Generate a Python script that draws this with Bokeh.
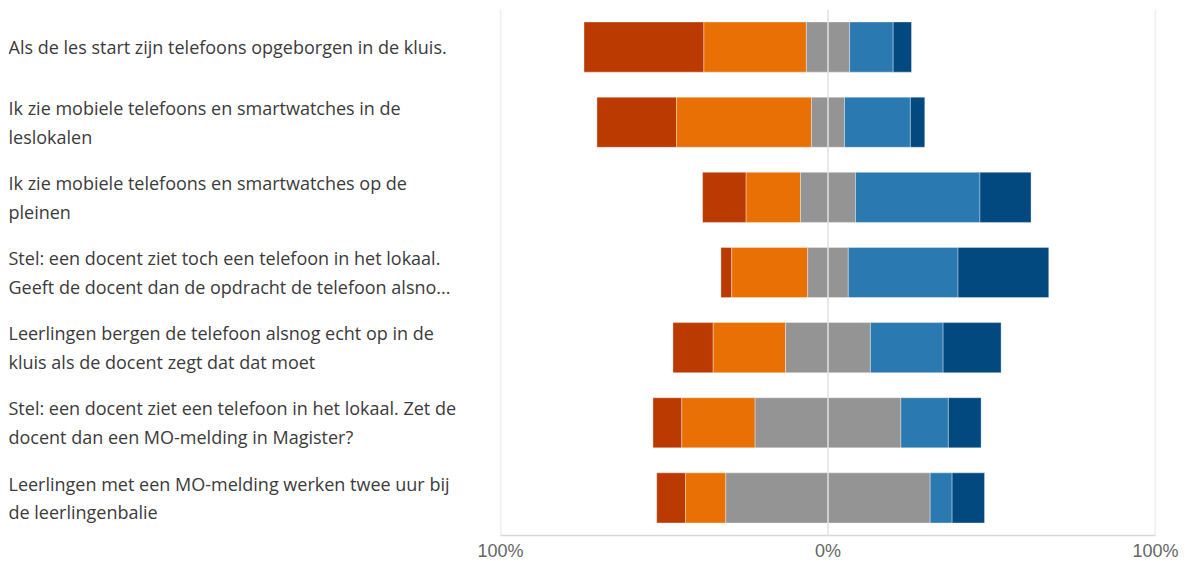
import numpy as np
from bokeh.plotting import figure
from bokeh.models import Range1d, FixedTicker, ColumnDataSource, Span
from bokeh.layouts import row
from bokeh.core.properties import value
from bokeh.embed import file_html
from bokeh.resources import INLINE

# ---- data ----
questions = [
    "Als de les start zijn telefoons opgeborgen in de kluis.",
    "Ik zie mobiele telefoons en smartwatches in de\nleslokalen",
    "Ik zie mobiele telefoons en smartwatches op de\npleinen",
    "Stel: een docent ziet toch een telefoon in het lokaal.\nGeeft de docent dan de opdracht de telefoon alsno...",
    "Leerlingen bergen de telefoon alsnog echt op in de\nkluis als de docent zegt dat dat moet",
    "Stel: een docent ziet een telefoon in het lokaal. Zet de\ndocent dan een MO-melding in Magister?",
    "Leerlingen met een MO-melding werken twee uur bij\nde leerlingenbalie",
]
strongly_negative = [36.6, 24.3, 13.3, 3.3, 12.3, 8.8, 8.8]
negative = [31.3, 41.2, 16.6, 23.2, 22.1, 22.4, 12.3]
neutral = [13.2, 10.1, 16.8, 12.4, 25.9, 44.5, 62.4]
positive = [13.3, 20.1, 38.0, 33.5, 22.2, 14.5, 6.7]
strongly_positive = [5.6, 4.4, 15.6, 27.7, 17.7, 10.0, 9.9]

x_ticks = [-100, 0, 100]
x_tick_labels = ["100%", "0%", "100%"]

colors = ["#BA3A02", "#E97005", "#949494", "#2B79B1", "#02497F"]

# ---- derived stacking ----
sn = np.array(strongly_negative)
ng = np.array(negative)
nu = np.array(neutral)
ps = np.array(positive)
sp = np.array(strongly_positive)
ypos = np.arange(len(questions))

start = -(sn + ng + nu / 2.0)
bounds = [start]
for seg in (sn, ng, nu, ps, sp):
    bounds.append(bounds[-1] + seg)

FRAME_H = 526
y_range = Range1d(len(questions) - 0.5, -0.5)

# ---- label panel ----
lab = figure(frame_width=462, frame_height=FRAME_H, x_range=Range1d(0, 462), y_range=y_range,
             output_backend="svg", toolbar_location=None,
             x_axis_location=None, y_axis_location=None,
             min_border_left=8, min_border_right=0, min_border_top=9, min_border_bottom=26)
lab.outline_line_color = None
lab.xgrid.visible = False
lab.ygrid.visible = False
lab.text(x=np.zeros(len(questions)), y=ypos, text=questions,
         text_font=value("Open Sans"), text_font_size="18px", text_color="#3B3B3B",
         text_align="left", text_baseline="middle", text_line_height=1.2)

# ---- bar panel ----
p = figure(frame_width=655, frame_height=FRAME_H, x_range=Range1d(-100, 100), y_range=y_range,
           output_backend="svg", toolbar_location=None, y_axis_location=None,
           min_border_left=30, min_border_right=24, min_border_top=9, min_border_bottom=26)
p.outline_line_color = None
p.ygrid.visible = False
p.xgrid.visible = False

for i in range(5):
    src = ColumnDataSource(dict(y=ypos, left=bounds[i], right=bounds[i + 1]))
    p.hbar(y="y", left="left", right="right", height=0.667, source=src,
           fill_color=colors[i], line_color="white", line_alpha=0.35, line_width=1)

for t in x_ticks:
    p.add_layout(Span(location=t, dimension="height", line_color="#E0E0E0",
                      line_width=1.5, level="overlay"))

p.xaxis.ticker = FixedTicker(ticks=x_ticks)
p.xaxis.major_label_overrides = {t: l for t, l in zip(x_ticks, x_tick_labels)}
p.xaxis.major_tick_line_color = None
p.xaxis.minor_tick_line_color = None
p.xaxis.major_tick_out = 0
p.xaxis.major_tick_in = 0
p.xaxis.axis_line_color = "#D9D9D9"
p.xaxis.axis_line_width = 1.5
p.xaxis.major_label_text_font = "Liberation Sans"
p.xaxis.major_label_text_font_size = "18px"
p.xaxis.major_label_text_color = "#666666"
p.xaxis.major_label_standoff = 5

layout = row(lab, p)
open("out.html", "w").write(file_html(layout, INLINE))
